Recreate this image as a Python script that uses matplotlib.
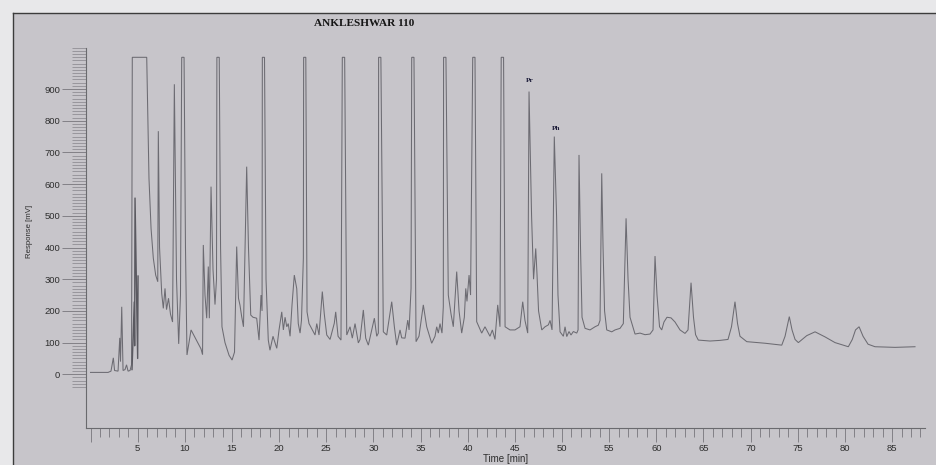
import matplotlib
matplotlib.use("Agg")
import matplotlib.pyplot as plt
from matplotlib.patches import Rectangle
from matplotlib.lines import Line2D

plt.rcParams['font.family'] = ['Liberation Sans', 'DejaVu Sans']

# ---------------- data ----------------
time_min = [
    0.00, 1.86, 2.17, 2.42, 2.55, 2.92, 3.10, 3.18, 3.31, 3.45, 3.66, 3.82, 3.98, 4.19, 4.35, 4.43, 5.96,
    6.07, 6.20, 6.42, 6.66, 6.91, 7.13, 7.19, 7.32, 7.55, 7.72, 7.90, 8.06, 8.27, 8.48, 8.70, 8.89, 9.12, 9.35, 9.54, 9.67, 9.92,
    10.07, 10.23, 10.66, 11.19, 11.72, 11.88, 11.96, 12.14, 12.32, 12.49, 12.60, 12.78, 12.99, 13.20, 13.36, 13.40, 13.65,
    13.79, 13.94, 14.26, 14.69, 15.01, 15.27, 15.50, 15.69, 15.85, 16.03, 16.22, 16.56, 16.75, 16.99, 17.23, 17.62, 17.87, 18.08, 18.19, 18.22, 18.45,
    18.61, 18.85, 19.03, 19.35, 19.75, 19.99, 20.28, 20.45, 20.63, 20.81, 20.97, 21.16, 21.37, 21.61, 21.87, 22.03, 22.22, 22.37, 22.57, 22.60, 22.83,
    22.96, 23.17, 23.81, 23.99, 24.23, 24.58, 24.79, 25.05, 25.40, 25.85, 26.00, 26.25, 26.56, 26.70, 26.95,
    27.17, 27.52, 27.76, 28.05, 28.40, 28.58, 28.93, 29.18, 29.46, 29.82, 30.10, 30.35, 30.52, 30.55, 30.79,
    31.05, 31.41, 31.94, 32.22, 32.47, 32.82, 33.00, 33.35, 33.64, 33.78, 33.99, 34.06, 34.30,
    34.52, 34.83, 35.29, 35.65, 36.18, 36.53, 36.71, 36.88, 37.06, 37.27, 37.41, 37.44, 37.69,
    37.94, 38.23, 38.47, 38.83, 39.08, 39.36, 39.64, 39.79, 39.92, 40.14, 40.30, 40.53, 40.77,
    40.95, 41.48, 41.83, 42.36, 42.61, 42.89, 43.18, 43.42, 43.55, 43.80,
    43.96, 44.48, 45.01, 45.54, 45.83, 46.07, 46.36, 46.50, 46.77, 46.98, 47.21, 47.35, 47.51, 47.85, 48.20, 48.55, 48.73, 48.94, 49.18, 49.42, 49.57, 49.79,
    50.14, 50.32, 50.50, 50.74, 50.95, 51.20, 51.56, 51.70, 51.80, 51.96, 52.12, 52.44, 52.97, 53.50, 53.85, 54.03, 54.21, 54.35, 54.51, 54.74,
    55.27, 55.62, 56.15, 56.50, 56.79, 57.00, 57.21, 57.74, 58.27, 58.80, 59.33, 59.65, 59.86, 60.07, 60.34, 60.57, 60.81, 61.13, 61.56, 61.98, 62.51, 63.04, 63.36, 63.68, 63.94, 64.16, 64.45,
    65.69, 66.75, 67.60, 67.97, 68.34, 68.61, 68.87, 69.59, 71.53, 73.30, 73.65, 74.10, 74.39, 74.71, 75.06, 75.95, 76.83, 77.89, 78.95, 80.36, 80.78, 81.12, 81.50, 81.92, 82.45, 83.19, 85.31, 87.43,
]
response_mv = [
    6, 6, 10, 52, 12, 10, 115, 40, 213, 12, 15, 30, 10, 12, 30, 1000, 1000,
    828, 618, 460, 366, 313, 292, 767, 400, 255, 208, 271, 204, 240, 190, 165, 915, 300, 96, 250, 1000, 1000,
    400, 61, 140, 110, 80, 62, 408, 250, 177, 340, 177, 592, 330, 220, 300, 1000, 1000,
    400, 150, 100, 60, 45, 70, 403, 240, 218, 182, 150, 655, 400, 187, 180, 177, 108, 250, 200, 1000, 1000,
    300, 108, 76, 120, 82, 140, 197, 140, 180, 150, 160, 120, 220, 313, 270, 160, 130, 170, 366, 1000, 1000,
    197, 160, 124, 160, 124, 261, 190, 124, 110, 161, 197, 120, 108, 1000, 1000,
    124, 150, 114, 160, 99, 110, 203, 114, 92, 140, 177, 120, 130, 1000, 1000,
    134, 124, 229, 150, 92, 140, 115, 114, 171, 140, 271, 1000, 1000,
    103, 120, 219, 150, 98, 120, 150, 130, 160, 130, 213, 1000, 1000,
    250, 190, 150, 324, 200, 130, 180, 271, 230, 313, 250, 1000, 1000,
    166, 130, 150, 120, 140, 110, 219, 150, 1000, 1000,
    150, 140, 140, 150, 229, 170, 130, 892, 500, 300, 397, 313, 200, 140, 150, 156, 170, 140, 750, 500, 250, 134,
    120, 150, 119, 135, 124, 135, 130, 140, 692, 400, 180, 145, 140, 150, 155, 170, 634, 400, 200, 140,
    134, 140, 145, 160, 492, 300, 180, 127, 130, 125, 127, 140, 373, 250, 150, 140, 165, 180, 178, 165, 140, 129, 140, 289, 180, 125, 108,
    105, 107, 110, 150, 229, 160, 120, 103, 98, 92, 120, 182, 140, 110, 100, 122, 134, 118, 100, 87, 110, 140, 150, 120, 95, 87, 85, 87,
]
# spikes drawn over the clipped solvent peak
spike_time = [4.40, 4.64, 4.68, 4.72, 4.88, 5.00, 5.04]
spike_mv = [15, 228, 90, 556, 260, 50, 310]

x_major = list(range(0, 90, 5))
x_labels = ['' if v == 0 else str(v) for v in x_major]
x_minor = list(range(0, 89))
y_major = list(range(0, 1000, 100))
y_labels = [str(v) for v in y_major]
y_minor = list(range(-40, 1031, 10))

title = 'ANKLESHWAR 110'
x_title = 'Time [min]'
y_title = 'Response [mV]'
peak_names = ['Pr', 'Ph']
peak_name_t = [46.6, 49.36]
peak_name_mv = [928, 774]

assert len(time_min) == len(response_mv)

# ---------------- figure ----------------
W, H = 936, 465
fig = plt.figure(figsize=(W / 100, H / 100), dpi=100)
fig.patch.set_facecolor('#e8e8ea')
fig.add_artist(Rectangle((13 / W, 0), 1 - 13 / W, 1 - 13 / H, transform=fig.transFigure,
                         facecolor='#c7c5ca', edgecolor='none', zorder=0))
fig.add_artist(Line2D([13 / W, 13 / W], [0, 1 - 13 / H], transform=fig.transFigure,
                      color='#3c3c3c', lw=1.0, zorder=1))
fig.add_artist(Line2D([13 / W, 1], [1 - 13 / H, 1 - 13 / H], transform=fig.transFigure,
                      color='#3c3c3c', lw=1.0, zorder=1))

ax_l, ax_r = 85.8, 925.1
ax_t, ax_b = 47.8, 428.2
ax = fig.add_axes([ax_l / W, (H - ax_b) / H, (ax_r - ax_l) / W, (ax_b - ax_t) / H])
ax.set_facecolor('none')
ax.set_xlim(-0.5, 88.5)
ax.set_ylim(-170, 1030)

line_col = '#6c6b72'
ax.plot(time_min, response_mv, color=line_col, lw=0.75, solid_joinstyle='miter')
ax.plot(spike_time, spike_mv, color='#5a5960', lw=1.0)

for s in ('top', 'right'):
    ax.spines[s].set_visible(False)
for s in ('left', 'bottom'):
    ax.spines[s].set_color('#6a6a6e')
    ax.spines[s].set_linewidth(0.8)

ax.set_xticks(x_major, labels=x_labels)
ax.set_xticks(x_minor, minor=True)
ax.set_yticks(y_major, labels=y_labels)
ax.set_yticks(y_minor, minor=True)

tick_col = '#77767c'
ax.tick_params(axis='x', which='major', direction='out', length=10, width=0.6, color=tick_col,
               pad=1.2, labelsize=6.8, labelcolor='#2e2e2e')
ax.tick_params(axis='x', which='minor', direction='out', length=6.5, width=0.6, color=tick_col)
ax.tick_params(axis='y', which='major', direction='out', length=17, width=0.6, color=tick_col,
               pad=1.5, labelsize=6.8, labelcolor='#2e2e2e')
ax.tick_params(axis='y', which='minor', direction='out', length=10, width=0.5, color='#85848a')

for i, name in enumerate(peak_names):
    ax.text(peak_name_t[i], peak_name_mv[i], name, fontsize=5.2, fontweight='bold',
            family=['Liberation Serif', 'DejaVu Serif'], color='#1b1b38', ha='center', va='center')

fig.text(364 / W, 1 - 23 / H, title, ha='center', va='center', fontsize=8.1, fontweight='bold',
         family=['Liberation Serif', 'DejaVu Serif'], color='#151515')
fig.text(506 / W, 1 - 459 / H, x_title, ha='center', va='center', fontsize=7.0, color='#2e2e2e')
fig.text(30 / W, 1 - 231 / H, y_title, ha='center', va='center', rotation=90, fontsize=5.6,
         color='#2e2e2e')

fig.savefig('out.png', dpi=100, facecolor=fig.get_facecolor())
